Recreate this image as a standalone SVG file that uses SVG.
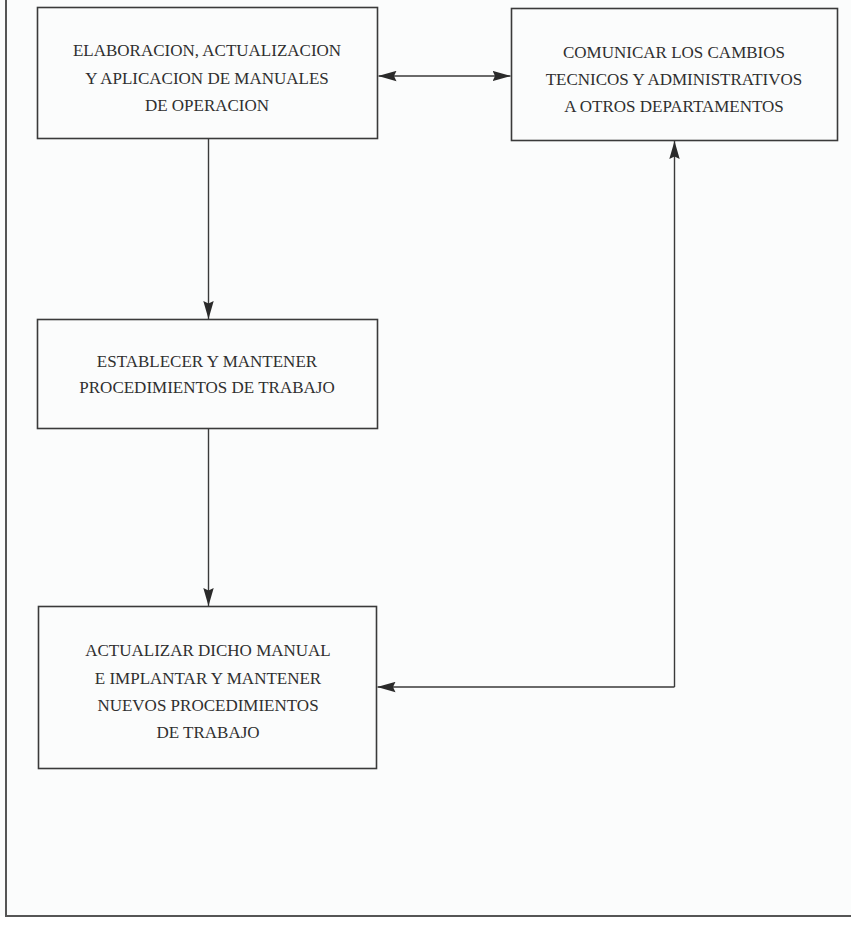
<svg xmlns="http://www.w3.org/2000/svg" width="851" height="934" viewBox="0 0 851 934">
  <defs>
    <marker id="arrow" viewBox="0 0 18 11" refX="18" refY="5.5" markerWidth="18" markerHeight="11" markerUnits="userSpaceOnUse" orient="auto-start-reverse">
      <path d="M0,0.3 L18,5.5 L0,10.7 L2.5,5.5 Z" fill="#2a2a2a"/>
    </marker>
    <style>
      .box { fill: none; stroke: #3a3a3a; stroke-width: 1.6; }
      .lbl { font-family: "Liberation Serif", "Times New Roman", serif; font-size: 17px; fill: #2f2f2f; text-anchor: middle; }
      .conn { fill: none; stroke: #3a3a3a; stroke-width: 1.4; }
      .frame { fill: none; stroke: #555; stroke-width: 2; }
    </style>
  </defs>

  <!-- page background and frame -->
  <rect x="0" y="0" width="851" height="934" fill="#fbfcfc"/>
  <rect x="0" y="916" width="851" height="18" fill="#ffffff"/>
  <path class="frame" d="M6,0 V916 H851"/>

  <!-- nodes -->
  <g id="manuales">
    <rect class="box" x="37.5" y="7.5" width="340" height="131"/>
    <text class="lbl" x="207" y="56">ELABORACION, ACTUALIZACION</text>
    <text class="lbl" x="207" y="84">Y APLICACION DE MANUALES</text>
    <text class="lbl" x="207" y="111">DE OPERACION</text>
  </g>

  <g id="comunicar">
    <rect class="box" x="511.5" y="8.5" width="326" height="132"/>
    <text class="lbl" x="674" y="58">COMUNICAR LOS CAMBIOS</text>
    <text class="lbl" x="674" y="85">TECNICOS Y ADMINISTRATIVOS</text>
    <text class="lbl" x="674" y="112">A OTROS DEPARTAMENTOS</text>
  </g>

  <g id="procedimientos">
    <rect class="box" x="37.5" y="319.5" width="340" height="109"/>
    <text class="lbl" x="207" y="367">ESTABLECER Y MANTENER</text>
    <text class="lbl" x="207" y="393">PROCEDIMIENTOS DE TRABAJO</text>
  </g>

  <g id="actualizar">
    <rect class="box" x="38.5" y="606.5" width="338" height="162"/>
    <text class="lbl" x="208" y="656">ACTUALIZAR DICHO MANUAL</text>
    <text class="lbl" x="208" y="684">E IMPLANTAR Y MANTENER</text>
    <text class="lbl" x="208" y="711">NUEVOS PROCEDIMIENTOS</text>
    <text class="lbl" x="208" y="738">DE TRABAJO</text>
  </g>

  <!-- connectors -->
  <g id="connectors">
    <line class="conn" x1="378.5" y1="76" x2="510.5" y2="76" marker-start="url(#arrow)" marker-end="url(#arrow)"/>
    <line class="conn" x1="208.5" y1="139" x2="208.5" y2="319" marker-end="url(#arrow)"/>
    <line class="conn" x1="208.5" y1="429" x2="208.5" y2="606" marker-end="url(#arrow)"/>
    <line class="conn" x1="674.5" y1="687" x2="674.5" y2="141" marker-end="url(#arrow)"/>
    <line class="conn" x1="674.5" y1="687" x2="377.5" y2="687" marker-end="url(#arrow)"/>
  </g>
</svg>
